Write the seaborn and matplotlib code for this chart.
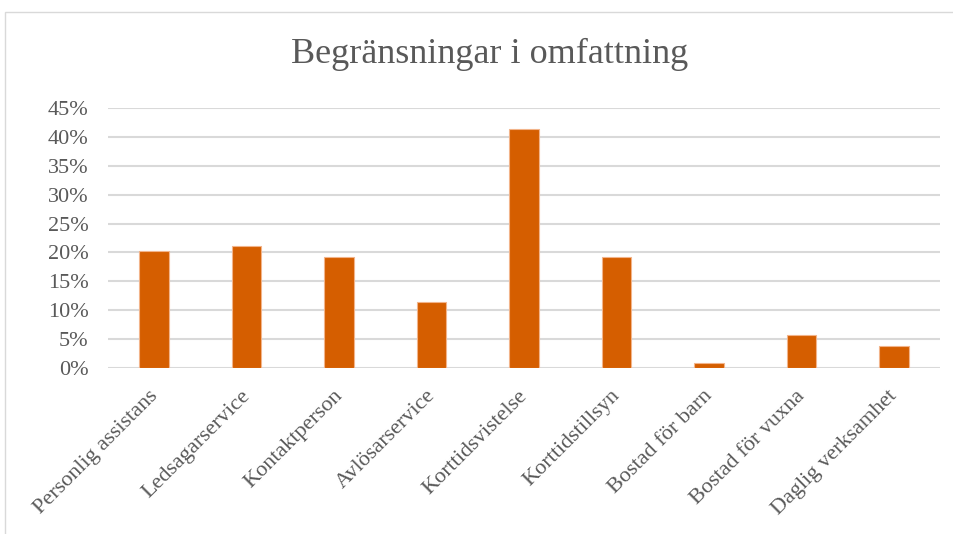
import matplotlib
matplotlib.use("Agg")
import matplotlib.pyplot as plt
from matplotlib.patches import Rectangle
from matplotlib.ticker import PercentFormatter
from matplotlib.transforms import ScaledTranslation
import seaborn as sns
import pandas as pd

categories = [
    "Personlig assistans", "Ledsagarservice", "Kontaktperson", "Avlösarservice",
    "Korttidsvistelse", "Korttidstillsyn", "Bostad för barn", "Bostad för vuxna",
    "Daglig verksamhet",
]
shares = [0.202, 0.211, 0.192, 0.115, 0.413, 0.192, 0.009, 0.058, 0.038]
title = "Begränsningar i omfattning"

bar_color = "#D55E00"
text_color = "#595959"
grid_color = "#D9D9D9"

sns.set_theme(style="white")
plt.rcParams["font.family"] = ["Liberation Serif", "DejaVu Serif"]

df = pd.DataFrame({"kategori": categories, "andel": shares})

fig = plt.figure(figsize=(9.54, 5.34), dpi=100)
ax = fig.add_axes([108 / 954, 1 - 368.3 / 534, (940 - 108) / 954, (368.3 - 107.7) / 534])

sns.barplot(data=df, x="kategori", y="andel", color=bar_color, width=0.32,
            edgecolor="#F2B48A", linewidth=0.8, saturation=1, ax=ax)

ax.set_ylim(0, 0.45)
ax.set_yticks([i * 0.05 for i in range(10)])
ax.yaxis.set_major_formatter(PercentFormatter(1.0, decimals=0))
ax.set_xlim(-0.5, len(categories) - 0.5)
ax.grid(axis="y", color=grid_color, linewidth=1.5)
ax.set_axisbelow(True)
for s in ax.spines.values():
    s.set_visible(False)
ax.set_xlabel("")
ax.set_ylabel("")
ax.tick_params(axis="y", length=0, pad=14, labelsize=16, labelcolor=text_color)
ax.tick_params(axis="x", length=0, pad=13, labelsize=16, labelcolor=text_color)
shift = ScaledTranslation(-6 / 100, 0, fig.dpi_scale_trans)
for lbl in ax.get_xticklabels():
    lbl.set_rotation(45)
    lbl.set_ha("right")
    lbl.set_rotation_mode("anchor")
    lbl.set_transform(lbl.get_transform() + shift)

fig.text(490 / 954, 1 - 54 / 534, title, ha="center", va="center",
         fontsize=26, color=text_color)

# chart frame
fig.patches.append(Rectangle((5 / 954, -0.1), 1.2, 1.1 - 12 / 534,
                             transform=fig.transFigure, fill=False,
                             edgecolor=grid_color, linewidth=1))

fig.savefig("out.png", dpi=100, facecolor="white")
